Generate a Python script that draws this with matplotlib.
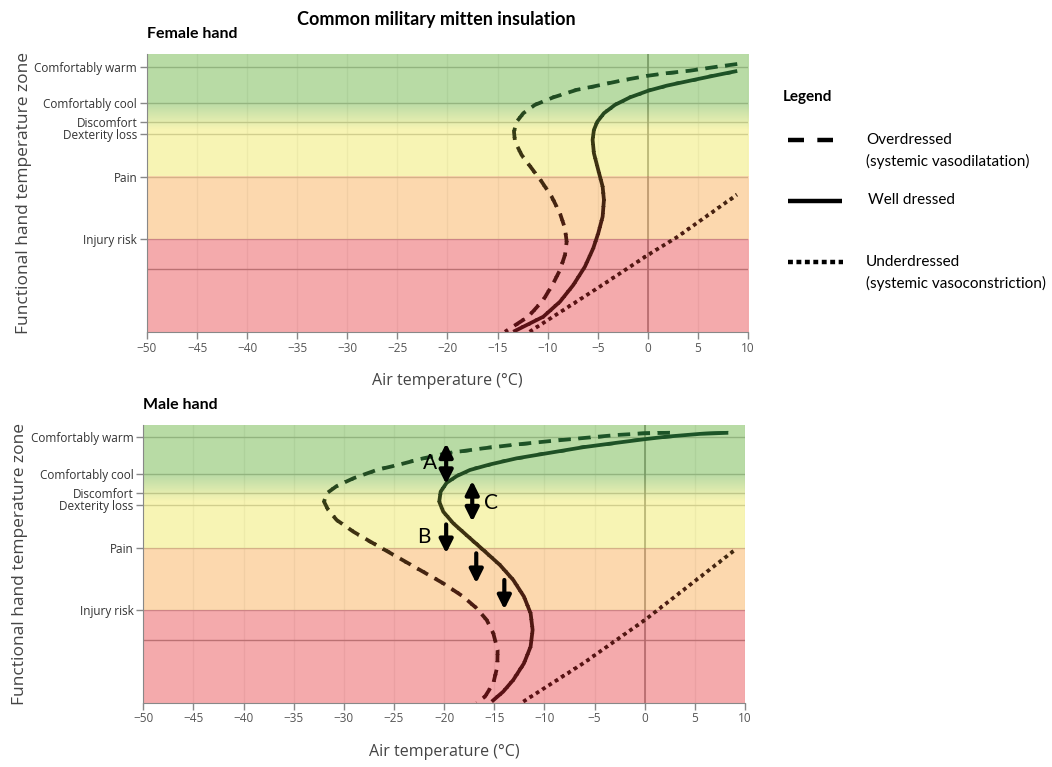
import numpy as np
import matplotlib.pyplot as plt
from matplotlib.colors import LinearSegmentedColormap, to_rgb
from matplotlib.patches import Rectangle
from matplotlib.lines import Line2D

# zone ticks on a 0-100 "zone" scale
zone_labels = ["Comfortably warm", "Comfortably cool", "Discomfort", "Dexterity loss", "Pain", "Injury risk"]
zone_ticks = [95.5, 82.3, 75.6, 71.2, 55.8, 33.3]
extra_line = 22.5
x_ticks = list(range(-50, 11, 5))

# female hand curves (air temp, zone)
f_well_x = [8.93, 6.87, 4.21, 1.88, 0.05, -1.78, -3.28, -4.38, -5.05, -5.38, -5.51, -5.38, -4.95, -4.51,
            -4.38, -4.51, -4.95, -5.45, -6.28, -7.44, -8.77, -10.44, -13.43]
f_well_y = [93.9, 92.4, 90.4, 88.6, 86.8, 84.4, 81.7, 78.7, 75.6, 72.7, 69.1, 64.3, 58.3, 52.3,
            47.5, 41.5, 35.5, 30.1, 23.5, 16.9, 10.9, 5.5, 0.1]
f_over_x = [8.93, 6.87, 4.21, 1.88, 0.05, -2.45, -4.78, -7.10, -9.44, -11.27, -12.43, -13.10, -13.36, -13.26,
            -12.60, -11.60, -10.60, -9.60, -8.77, -8.27, -8.10, -8.27, -8.77, -9.44, -10.44, -11.94, -14.26]
f_over_y = [96.4, 95.4, 94.0, 93.1, 92.2, 90.6, 88.8, 87.1, 84.4, 81.7, 78.7, 75.6, 72.1, 68.5,
            63.7, 58.9, 54.1, 48.7, 42.7, 37.3, 32.5, 27.7, 22.3, 17.5, 11.5, 5.5, 0.1]
f_under_x = [-11.8, -4.8, 0.0, 2.9, 8.9]
f_under_y = [0.1, 16.3, 27.7, 34.1, 49.4]

# male hand curves
m_well_x = [8.33, 5.50, 2.18, 0.02, -2.80, -6.13, -9.45, -12.77, -15.43, -17.43, -18.75, -19.75, -20.35, -20.49,
            -20.09, -19.09, -17.60, -16.10, -14.44, -13.11, -12.04, -11.38, -11.18, -11.38, -12.04, -13.11,
            -14.11, -15.26]
m_well_y = [97.2, 96.8, 95.8, 94.9, 93.6, 92.0, 90.0, 88.0, 85.8, 83.8, 81.6, 79.2, 76.0, 72.4,
            68.8, 64.6, 59.8, 55.0, 49.6, 44.2, 38.2, 32.2, 26.2, 20.2, 14.2, 8.2, 4.0, 0.4]
m_over_x = [2.51, 0.02, -2.80, -6.13, -9.45, -12.77, -16.10, -19.42, -22.08, -24.41, -26.73, -29.06, -30.72,
            -31.71, -31.98, -31.56, -30.72, -29.06, -27.07, -24.74, -22.41, -20.09, -18.10, -16.76, -15.76,
            -15.10, -14.67, -14.70, -15.10, -15.93, -16.76]
m_over_y = [97.2, 97.0, 96.4, 95.3, 94.2, 93.0, 91.6, 90.0, 88.0, 85.8, 83.8, 80.8, 78.0,
            75.4, 72.4, 69.4, 65.8, 61.6, 57.4, 52.6, 47.8, 43.0, 38.2, 34.0, 29.8,
            25.0, 19.0, 13.0, 7.0, 2.2, 0.0]
m_under_x = [-12.11, -6.13, 0.02, 4.50, 8.99]
m_under_y = [0.4, 14.2, 29.8, 42.4, 55.0]

# arrows in male panel: (x, y_start, y_end, double-headed)
arrows = [(-19.8, 93.4, 78.7, True), (-17.2, 79.9, 65.2, True), (-19.8, 64.2, 53.8, False),
          (-16.8, 53.8, 43.0, False), (-14.0, 44.2, 33.6, False)]
arrow_labels = [("A", -21.4, 86.2), ("C", -15.3, 72.0), ("B", -22.0, 59.8)]

# zone colours (as seen on white) and band layout
c_green = np.array(to_rgb("#b9dba6"))
c_yellow = np.array(to_rgb("#f8f5b4"))
c_orange = np.array(to_rgb("#fcd8ae"))
c_red = np.array(to_rgb("#f5abad"))
band_alpha = 0.6

line_cmap = LinearSegmentedColormap.from_list(
    "hand", [(0.0, "#5c0f14"), (0.3, "#4f1812"), (0.55, "#402a10"), (0.7, "#3a3a12"),
             (0.8, "#234a20"), (1.0, "#1b5628")])

ui_font = "Open Sans"
head_font = "Lato"


def band_rgba(y):
    if y >= 82.3:
        c = c_green
    elif y >= 72.5:
        t = (y - 72.5) / (82.3 - 72.5)
        c = c_yellow * (1 - t) + c_green * t
    elif y >= 55.8:
        c = c_yellow
    elif y >= 33.3:
        c = c_orange
    else:
        c = c_red
    # colour that gives c over white at band_alpha
    src = (c - (1 - band_alpha)) / band_alpha
    return np.clip(src, 0, 1)


def gradient_line(ax, x, y, n=40, **kw):
    for k in range(n):
        ln, = ax.plot(x, y, color=line_cmap((k + 0.5) / n), zorder=3, **kw)
        rect = Rectangle((0, k / n - 0.002), 1, 1 / n + 0.004, transform=ax.transAxes)
        ln.set_clip_path(rect)


def setup_panel(ax, title):
    ax.set_xlim(-50, 10)
    ax.set_ylim(0, 100)
    for xv in x_ticks:
        ax.axvline(xv, color="#e6e6e6", lw=1, zorder=0.5)
    ax.axvline(0, color="#5a5a5a", lw=1.2, zorder=0.6)
    for yv in zone_ticks:
        ax.axhline(yv, color="#a0a0a0", lw=1, zorder=0.5)
    ax.axhline(extra_line, color="#707070", lw=1, zorder=0.5)
    yy = np.linspace(0, 100, 1000)
    rgb = np.array([band_rgba(v) for v in yy])
    img = np.column_stack([rgb, np.full(len(yy), band_alpha)]).reshape(len(yy), 1, 4)
    ax.imshow(img, extent=[-50, 10, 0, 100], origin="lower", aspect="auto", interpolation="nearest", zorder=1)
    ax.set_xticks(x_ticks)
    ax.set_xticklabels([("\u2212%d" % -v) if v < 0 else str(v) for v in x_ticks],
                       fontsize=8.5, color="#555555", family=ui_font)
    ax.set_yticks(zone_ticks)
    ax.set_yticklabels(zone_labels, fontsize=8.5, color="#333333", family=ui_font)
    ax.tick_params(direction="out", length=5, color="#888888", width=1, pad=2)
    for s in ["top", "right"]:
        ax.spines[s].set_visible(False)
    for s in ["left", "bottom"]:
        ax.spines[s].set_color("#888888")
        ax.spines[s].set_zorder(4)
    ax.set_xlabel("Air temperature (\u00b0C)", fontsize=11.5, color="#444444", family=ui_font, labelpad=13)
    ax.set_ylabel("Functional hand temperature zone", fontsize=12.5, color="#444444", family=ui_font, labelpad=2)
    ax.text(0.0, 1.045, title, transform=ax.transAxes, fontsize=11.5, fontweight="bold",
            family=head_font, ha="left", va="bottom")


fig = plt.figure(figsize=(10.52, 7.67), dpi=100)
ax1 = fig.add_axes([0.1397, 0.5671, 0.5713, 0.3625])
ax2 = fig.add_axes([0.1362, 0.0838, 0.5720, 0.3621])

setup_panel(ax1, "Female hand")
setup_panel(ax2, "Male hand")

dash = (0, (3.3, 2.0))
dot = (0, (1.0, 1.0))
for ax, wx, wy, ox, oy, ux, uy in [(ax1, f_well_x, f_well_y, f_over_x, f_over_y, f_under_x, f_under_y),
                                   (ax2, m_well_x, m_well_y, m_over_x, m_over_y, m_under_x, m_under_y)]:
    gradient_line(ax, wx, wy, lw=2.7, solid_capstyle="butt")
    gradient_line(ax, ox, oy, lw=2.7, linestyle=dash, dash_capstyle="butt")
    gradient_line(ax, ux, uy, lw=2.7, linestyle=dot, dash_capstyle="butt")

for xa, y0, y1, both in arrows:
    style = "<|-|>" if both else "-|>"
    ax2.annotate("", xy=(xa, y1), xytext=(xa, y0),
                 arrowprops=dict(arrowstyle=style, color="black", lw=3.0, mutation_scale=20,
                                 shrinkA=0, shrinkB=0), zorder=5)
for lab, xl, yl in arrow_labels:
    ax2.text(xl, yl, lab, fontsize=15, family=head_font, ha="center", va="center", zorder=5)

fig.text(0.415, 1 - 20 / 767, "Common military mitten insulation", fontsize=13, fontweight="bold",
         family=head_font, ha="center", va="center")

# legend
def fx(p):
    return p / 1052


def fy(p):
    return 1 - p / 767


fig.text(fx(783), fy(97), "Legend", fontsize=11, fontweight="bold", family=head_font, ha="left", va="center")
fig.add_artist(Line2D([fx(788), fx(833)], [fy(140), fy(140)], transform=fig.transFigure, color="black",
                      lw=3.2, linestyle=(0, (3.6, 3.0)), dash_capstyle="butt"))
fig.add_artist(Line2D([fx(788), fx(842)], [fy(200.5), fy(200.5)], transform=fig.transFigure, color="black",
                      lw=3.2, solid_capstyle="butt"))
fig.add_artist(Line2D([fx(788), fx(843)], [fy(262), fy(262)], transform=fig.transFigure, color="black",
                      lw=3.2, linestyle=(0, (1.1, 0.8)), dash_capstyle="butt"))
leg_kw = dict(fontsize=11, family=head_font, ha="left", va="center")
fig.text(fx(866), fy(140), "Overdressed", **leg_kw)
fig.text(fx(866), fy(161), "(systemic vasodilatation)", **leg_kw)
fig.text(fx(868), fy(200.5), "Well dressed", **leg_kw)
fig.text(fx(866), fy(262), "Underdressed", **leg_kw)
fig.text(fx(866), fy(283), "(systemic vasoconstriction)", **leg_kw)

fig.savefig("out.png", dpi=100)
